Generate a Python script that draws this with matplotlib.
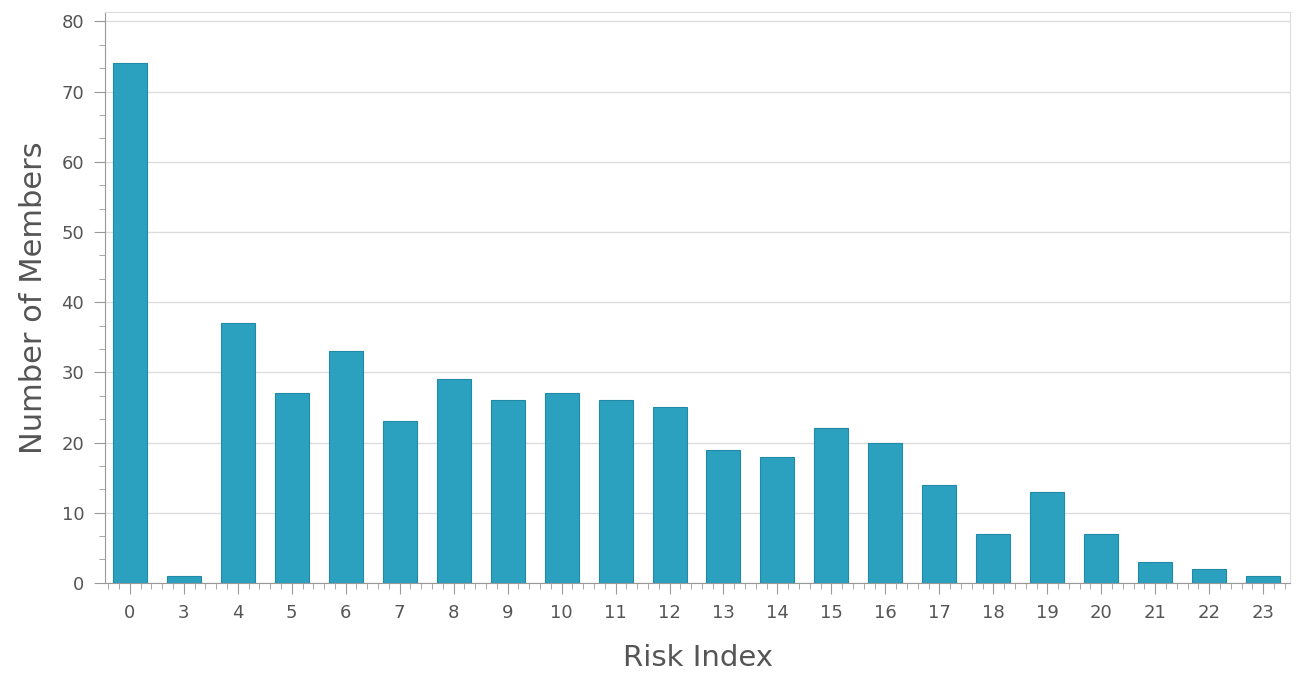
import numpy as np
import matplotlib
matplotlib.use("Agg")
import matplotlib.pyplot as plt
from matplotlib.ticker import MultipleLocator

risk_index = ["0", "3", "4", "5", "6", "7", "8", "9", "10", "11", "12",
              "13", "14", "15", "16", "17", "18", "19", "20", "21", "22", "23"]
members = [74, 1, 37, 27, 33, 23, 29, 26, 27, 26, 25,
           19, 18, 22, 20, 14, 7, 13, 7, 3, 2, 1]

BAR_COLOR = "#2ca1bf"
EDGE_COLOR = "#1f8aa6"
TEXT_COLOR = "#555555"

plt.rcParams["font.family"] = ["DejaVu Sans"]

fig = plt.figure(figsize=(12.96, 6.77), dpi=100)
ax = fig.add_axes([0.081, 0.139, 0.9145, 0.843])

x = np.arange(len(risk_index))
ax.bar(x, members, width=0.63, color=BAR_COLOR, edgecolor=EDGE_COLOR,
       linewidth=0.8, zorder=3)

ax.set_xlim(-0.46, len(risk_index) - 0.5)
ax.set_ylim(0, 81.3)

ax.set_xticks(x)
ax.set_xticklabels(risk_index)
ax.xaxis.set_minor_locator(MultipleLocator(0.2))
ax.set_yticks(np.arange(0, 81, 10))
ax.yaxis.set_minor_locator(MultipleLocator(10 / 3))

ax.grid(axis="y", color="#dddddd", linewidth=1, zorder=0)

for side in ("top", "right"):
    ax.spines[side].set_color("#dddddd")
for side in ("left", "bottom"):
    ax.spines[side].set_color("#999999")

ax.tick_params(axis="both", which="major", length=8, color="#999999",
               labelsize=13, labelcolor=TEXT_COLOR, pad=7)
ax.tick_params(axis="both", which="minor", length=4, color="#999999")

ax.set_xlabel("Risk Index", fontsize=21, color=TEXT_COLOR, labelpad=16)
ax.set_ylabel("Number of Members", fontsize=22, color=TEXT_COLOR, labelpad=10)

fig.savefig("out.png", dpi=100)
